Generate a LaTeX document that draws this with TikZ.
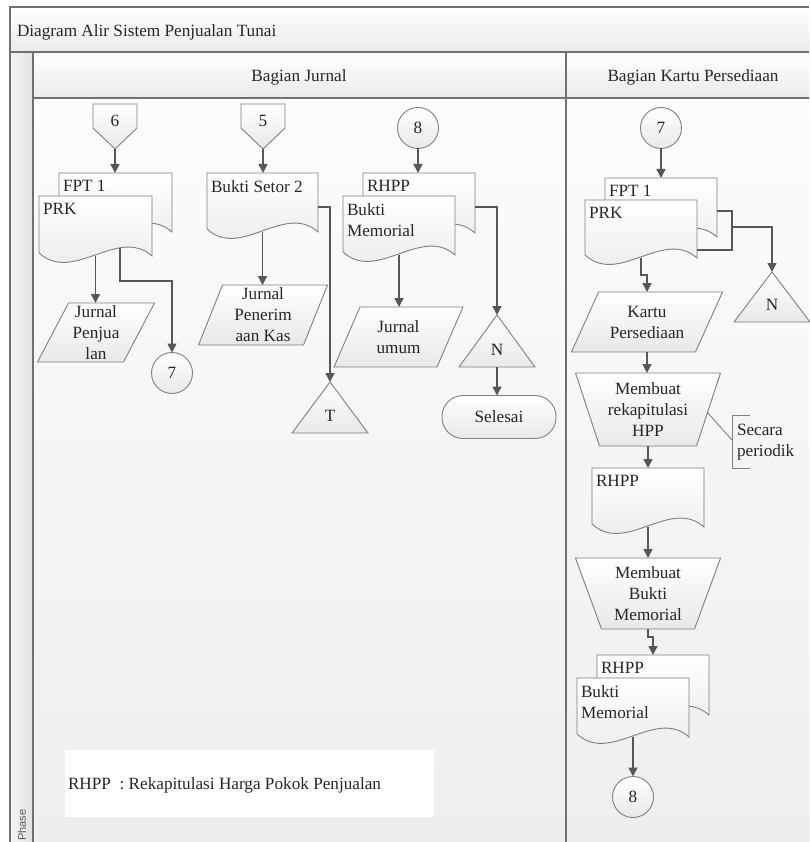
\documentclass[tikz,border=0pt]{standalone}
\usepackage{fontspec}
\setmainfont{Liberation Serif}
\setsansfont{Liberation Sans}
\usetikzlibrary{arrows.meta,calc}

\definecolor{frameln}{HTML}{707070}
\definecolor{shapeln}{HTML}{7F7F7F}
\definecolor{arrln}{HTML}{575757}
\definecolor{ink}{HTML}{262626}
\definecolor{laneTop}{HTML}{FCFCFC}
\definecolor{laneBot}{HTML}{EEEEEE}
\definecolor{headBot}{HTML}{EAEAEA}
\definecolor{shpBot}{HTML}{E8E8E8}

\tikzset{
  shp/.style={draw=shapeln, line width=0.9pt, top color=white, bottom color=shpBot},
  inv/.style={draw=none, inner sep=0pt, outer sep=0pt, rectangle},
  fnt/.style={inner sep=0pt, outer sep=0pt, text=ink, font=\fontsize{17.2}{21}\selectfont},
  txt/.style={fnt, align=center},
  ltxt/.style={fnt, align=left},
  circ/.style={shp, txt, circle, minimum size=41pt},
  arr/.style={draw=arrln, line width=1.5pt, -{Triangle[length=9pt,width=9pt]}},
  conn/.style={draw=arrln, line width=1.5pt},
  note/.style={draw=shapeln, line width=0.9pt},
  frame/.style={draw=frameln, line width=1.2pt},
}

% document symbol: name, left, top, width, height of straight side, text
\newcommand\DocShape[6]{%
  \path[shp] (#2,#3) -- ({#2+#4},#3) -- ({#2+#4},{#3+#5})
    .. controls ({#2+0.7*#4},{#3+#5-30}) and ({#2+0.3*#4},{#3+#5+28}) .. (#2,{#3+#5-3}) -- cycle;
  \node[inv, anchor=north west, minimum width=#4, minimum height=#5] (#1) at (#2,#3) {};
  \node[ltxt, anchor=north west] (#1-t) at ({#2+4},{#3+7.5}) {#6};
}
% data symbol: name, centre x, centre y, width, height, slant, text
\newcommand\ParaShape[7]{%
  \path[shp] ({#2-#4/2+#6/2},{#3-#5/2}) -- ({#2+#4/2+#6/2},{#3-#5/2})
    -- ({#2+#4/2-#6/2},{#3+#5/2}) -- ({#2-#4/2-#6/2},{#3+#5/2}) -- cycle;
  \node[txt, minimum width=#4, minimum height=#5] (#1) at (#2,#3) {#7};
}
% manual operation: name, centre x, top, height, top width, bottom width, text
\newcommand\TrapShape[7]{%
  \path[shp] ({#2-#5/2},#3) -- ({#2+#5/2},#3) -- ({#2+#6/2},{#3+#4}) -- ({#2-#6/2},{#3+#4}) -- cycle;
  \node[txt, minimum width=#6, minimum height=#4] (#1) at (#2,{#3+#4/2}) {#7};
}
% archive triangle: name, apex x, apex y, height, text
\newcommand\TriShape[5]{%
  \path[shp] (#2,#3) -- ({#2+38},{#3+#4}) -- ({#2-38},{#3+#4}) -- cycle;
  \node[inv, anchor=north, minimum width=76, minimum height=#4] (#1) at (#2,#3) {};
  \node[txt] (#1-t) at (#2,{#3+#4-17}) {#5};
}
% off-page connector: name, centre x, top, text
\newcommand\OffShape[4]{%
  \path[shp] ({#2-22},#3) -- ({#2+22},#3) -- ({#2+22},{#3+24}) -- (#2,{#3+45}) -- ({#2-22},{#3+24}) -- cycle;
  \node[inv, anchor=north, minimum width=44, minimum height=45] (#1) at (#2,#3) {};
  \node[txt] (#1-t) at (#2,{#3+17}) {#4};
}

\begin{document}
\begin{tikzpicture}[x=1pt, y=-1pt]
\useasboundingbox (0,0) rectangle (809,842);

% ---- swimlane frame ----
\shade[top color=laneTop, bottom color=laneBot] (33,98) rectangle (809,842);
\shade[top color=white, bottom color=headBot] (10,7) rectangle (809,52);
\shade[top color=white, bottom color=headBot] (33,52) rectangle (809,98);
\shade[left color=white!96!black, right color=white!88!black] (10,52) rectangle (33,842);
\draw[frame] (10,842) -- (10,7) -- (809,7);
\draw[frame] (10,52) -- (809,52);
\draw[frame] (33,52) -- (33,842);
\draw[frame] (33,98) -- (809,98);
\draw[frame] (566,52) -- (566,842);

\node[fnt, anchor=base west] (title) at (17,37) {Diagram Alir Sistem Penjualan Tunai};
\node[fnt, anchor=base] (laneA) at (299,82) {Bagian Jurnal};
\node[fnt, anchor=base] (laneB) at (693,82) {Bagian Kartu Persediaan};
\node[inner sep=0pt, rotate=90, text=black!65, font=\sffamily\fontsize{11}{13}\selectfont] (phase) at (22,825) {Phase};

% ---- Bagian Jurnal ----
\OffShape{off6}{115}{104}{6}
\DocShape{fpt1L}{59}{173}{113}{59}{FPT 1}
\DocShape{prkL}{39}{196}{113}{60}{PRK}
\ParaShape{jp}{96}{332.5}{86}{59}{31}{Jurnal\\Penjua\\lan}
\node[circ] (c7L) at (172,373) {7};

\OffShape{off5}{263}{104}{5}
\DocShape{bs2}{207}{173}{111}{59}{Bukti Setor 2}
\ParaShape{jpk}{263}{315}{105}{60}{24}{Jurnal\\Penerim\\aan Kas}
\TriShape{triT}{330}{382}{51}{T}

\node[circ] (c8L) at (418,128) {8};
\DocShape{rhppL}{363}{173}{112}{60}{RHPP}
\DocShape{bmL}{343}{196}{112}{59}{Bukti\\Memorial}
\ParaShape{ju}{398.5}{337}{103}{60}{26}{Jurnal\\umum}
\TriShape{triN1}{497}{315}{52}{N}
\node[shp, txt, rounded corners=21pt, minimum width=114, minimum height=43] (sel) at (499,417) {Selesai};

% ---- Bagian Kartu Persediaan ----
\node[circ] (c7R) at (661,128) {7};
\DocShape{fpt1R}{605}{178}{112}{59}{FPT 1}
\DocShape{prkR}{585}{200}{112}{58}{PRK}
\TriShape{triN2}{772}{272}{50}{N}
\ParaShape{kp}{647}{322}{124}{60}{27}{Kartu\\Persediaan}
\TrapShape{trap1}{648}{373}{73}{145}{97}{Membuat\\rekapitulasi\\HPP}
\DocShape{rhppR}{592}{468}{112}{59}{RHPP}
\TrapShape{trap2}{648}{558}{71}{145}{93}{Membuat\\Bukti\\Memorial}
\DocShape{rhppR2}{597}{655}{112}{60}{RHPP}
\DocShape{bmR}{577}{678}{112}{59}{Bukti\\Memorial}
\node[circ] (c8R) at (633,797) {8};

% annotation bracket
\coordinate (trap1r) at (707,412);
\coordinate (brk) at (732,440);
\draw[note] (trap1r) -- (brk);
\draw[note] (750,415) -- (732,415) -- (732,468) -- (750,468);
\node[ltxt, anchor=west] (per) at (737,442) {Secara\\periodik};

% legend
\node[inv, fill=white, anchor=north west, minimum width=369, minimum height=67] (legbox) at (65,750) {};
\node[fnt, anchor=base west] (leg) at (68,789) {RHPP\ \ : Rekapitulasi Harga Pokok Penjualan};

% ---- connectors ----
\draw[arr] (off6.south) -- (off6.south |- fpt1L.north);
\draw[arr] (prkL.south) -- (prkL.south |- jp.north);
\draw[arr] ([shift={(24.5,-8)}]prkL.south) -- ++(0,33) -| (c7L.north);

\draw[arr] (off5.south) -- (off5.south |- bs2.north);
\draw[arr] (bs2.south) -- (bs2.south |- jpk.north);
\draw[arr] ([yshift=-4.5pt]bs2.east) -| (triT.north);

\draw[arr] (c8L.south) -- (c8L.south |- rhppL.north);
\draw[arr] (bmL.south) -- (bmL.south |- ju.north);
\draw[arr] ([yshift=-4pt]rhppL.east) -| (triN1.north);
\draw[arr] (triN1.south) -- (triN1.south |- sel.north);

\draw[arr] (c7R.south) -- (c7R.south |- fpt1R.north);
\draw[arr] (prkR.south) -- ++(0,17) -| (kp.north);
\draw[conn] ([yshift=-3.5pt]fpt1R.east) -- ++(15,0) |- ([yshift=-21pt]prkR.east);
\coordinate (jN) at (732,227);
\draw[arr] (jN) -| (triN2.north);
\draw[arr] (kp.south) -- (kp.south |- trap1.north);
\draw[arr] (trap1.south) -- (trap1.south |- rhppR.north);
\draw[arr] (rhppR.south) -- (rhppR.south |- trap2.north);
\draw[arr] (trap2.south) -- ++(0,8) -| (rhppR2.north);
\draw[arr] (bmR.south) -- (bmR.south |- c8R.north);
\end{tikzpicture}
\end{document}
